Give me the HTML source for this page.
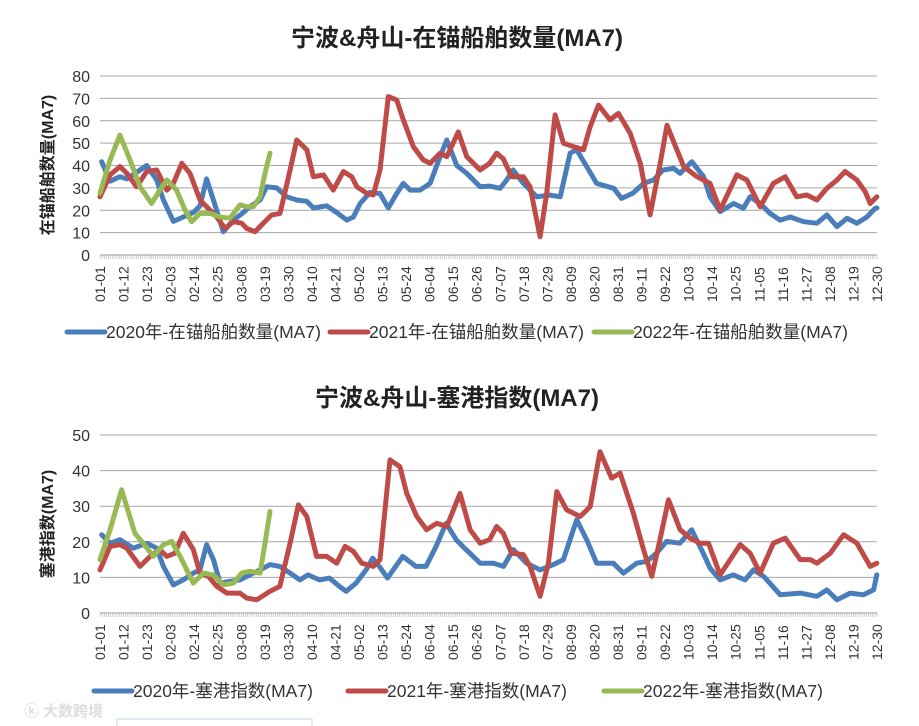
<!DOCTYPE html>
<html><head><meta charset="utf-8">
<style>
html,body{margin:0;padding:0;background:#fff;}
svg{display:block;font-family:"Liberation Sans","Noto Sans CJK SC",sans-serif;}
</style></head>
<body>
<svg id="chart" width="919" height="726" viewBox="0 0 919 726">
<text x="457" y="46" text-anchor="middle" font-size="24" font-weight="bold" fill="#222">宁波&amp;舟山-在锚船舶数量(MA7)</text>
<text x="457" y="406" text-anchor="middle" font-size="24" font-weight="bold" fill="#222">宁波&amp;舟山-塞港指数(MA7)</text>
<text transform="translate(53,165) rotate(-90)" text-anchor="middle" font-size="16" font-weight="bold" fill="#222">在锚船舶数量(MA7)</text>
<text transform="translate(53,524) rotate(-90)" text-anchor="middle" font-size="16" font-weight="bold" fill="#222">塞港指数(MA7)</text>
<g id="layer"></g>
<text x="24" y="716" font-size="15" fill="#ddd" font-weight="bold">ⓚ 大数跨境</text>
<rect x="117" y="719" width="195" height="10" fill="none" stroke="#c8d4e8"/>
</svg>
<script>
var tickLabels = ["01-01","01-12","01-23","02-03","02-14","02-25","03-08","03-19","03-30","04-10","04-21","05-02","05-13","05-24","06-04","06-15","06-26","07-07","07-18","07-29","08-09","08-20","08-31","09-11","09-22","10-03","10-14","10-25","11-05","11-16","11-27","12-08","12-19","12-30"];
var topYTicks = [0,10,20,30,40,50,60,70,80];
var botYTicks = [0,10,20,30,40,50];
var seriesNames = ["2020年","2021年","2022年"];

var top2020Days = [0.8,4.7,9.3,12.5,18.7,21.8,26.5,29.6,34.3,38.9,43.6,46.7,49.8,53,57.6,62.3,67,70,74.8,77.9,82.5,87.2,91.9,96.6,99.7,105.9,110.6,115.3,118.4,121.5,126.2,130.8,134.7,138.6,141.7,144.9,149.5,154.2,158.9,162,166.7,171.3,177.6,182,186.9,190,193,197.8,204,210,215,219.6,222.7,227.4,232,240,243.7,249,253.9,258.6,263,268,271,276.5,282,285,289.7,296,300.6,303.7,308.4,313,317.8,322.5,328.7,334.9,339.6,344.3,349,353.6,358.3,362.2,363];
var top2020Vals = [41.7,33,35,34,38,40,33.5,24.6,15,17,19,22,34,24.6,10.4,15.6,19,21.6,24.6,30.5,30,26,24.6,24,21,22,19,15.6,17,23,28,27.5,21,27.5,32,29,29,32,44,51.4,40,36.5,30.5,30.8,29.8,33.5,38,32,26,26.8,26,45.5,47,39.5,32,29.8,25.3,27.6,32,33.5,38,38.7,36.5,41.7,35,26,19.4,23,20.9,26,23,18.6,15.6,17,14.9,14.2,17.9,12.7,16.4,14.2,17,20.9,21];

var top2021Days = [0,4.7,9.3,12.5,17.1,21.8,26.5,31.2,34.3,38.2,42,46.7,49.8,54.5,58.4,62.3,66.2,68.5,72.4,76.3,80.2,84.1,88.8,91.9,96.6,99.7,104.4,109,113.7,117.6,120,124.6,127.7,130.8,134.7,138.6,141.7,146.4,151,154.2,158.9,162,167.4,171.3,177.6,182,185.3,188.4,192.3,197.8,200.9,205.6,208.7,212.6,216.5,221.2,225.9,229,232.9,238.3,242.2,247.7,252.4,257,261.7,264.9,269.5,272.7,278.9,285,289.7,297.5,302.2,308.4,314.6,320.1,325.5,330.2,334.9,339.6,344.3,348.1,353.6,357.5,359.8,362.9];
var top2021Vals = [26,35.8,39.5,36.5,30.5,37.3,38,29,32,41,36.5,24.6,21.6,17,11.9,14.9,14.2,11.9,10.4,14.2,17.9,18.6,38,51.4,47,35,35.8,29,37.3,35,30.5,27.6,26.8,38,70.8,69.3,60.4,48.4,42.5,41,45.5,44,55,44,38,41,45.5,43,35,35,30.5,8.2,27.6,62.6,50,48.4,47,57.4,67,60.4,63.3,54.4,41,17.9,41,58,47,39.5,35,32,20.1,35.8,33.5,21.6,32,35,26,26.8,24.6,29.8,33.5,37.3,33.5,28.3,23,26];

var top2022Days = [0,4.7,9.3,14,18.7,24.1,28,31.2,35.8,39.7,42.8,46.7,51.4,56.1,60.7,65.4,68.5,71.6,74.8,77.1,79.4];
var top2022Vals = [27.6,42.5,53.6,42.5,30.5,23,29,33.5,29,20.1,14.9,18.6,18.6,17,16.4,22.4,21.6,21.6,26,36.5,45.5];

var bot2020Days = [0.8,4.7,9.3,15.6,21.8,26.5,29.6,34.3,38.9,43.6,46.7,49.8,53,56.1,60.7,65.4,70,74.8,79.4,84,88.8,93.4,97.2,102.5,107.2,111.8,115,119.6,124.3,127.4,130.5,134.3,141.4,147.6,152.3,157,161.7,166.4,171,177.6,183.8,188.5,193.1,199.3,205.6,211.8,216.5,222.7,227.4,232,239.8,244.5,250.7,255.4,260,264.7,270.9,276.4,281.8,285,289.7,295.9,301.4,305.3,310,317.8,327.1,334.9,339.6,344.3,350.5,356.7,361.4,362.9];
var bot2020Vals = [22,19.6,20.6,18.2,19.6,18.2,13.1,7.9,9.3,11.2,12.1,19.2,15,8.4,8.9,9.3,10.7,12.1,13.6,13.1,11.2,9.3,10.7,9.3,9.8,7.5,6.1,8.4,12.1,15.4,13.1,9.8,15.9,13.1,13.1,18.7,25.2,20.6,17.8,14,14,13.1,17.8,14,12.1,13.6,15,26.2,20.6,14,14,11.2,14,14.5,16.8,20.1,19.6,23.4,16.8,12.6,9.3,10.7,9.3,12.1,10.3,5.1,5.6,4.7,6.5,3.7,5.6,5.1,6.5,10.7];

var bot2021Days = [0,4.7,9.3,12.5,18.7,23.4,28,31.2,35,38.9,43.6,46.7,50.6,54.5,59.2,65.4,68.5,73.2,79.4,84,88.8,92.7,96.6,101.2,105.9,110.6,114.5,118.4,122.3,127.7,130.8,135.5,140.1,143.3,148,152.6,157.3,162,168.2,172.9,177.6,182,185.3,188.4,192.3,197.8,200.9,205.6,209.5,213.4,218,224.3,229,233.6,239,243,249.2,253.9,257.8,260.9,265.6,271,275.7,280.4,284.3,289.7,294.4,299.1,303.7,308.4,314.6,320.1,327.1,331.8,334.9,341.2,347.4,353.6,359.8,362.9];
var bot2021Vals = [12.1,18.7,19.2,18.2,13.1,15.9,17.8,15.9,16.8,22.4,17.8,11.2,10.3,7.5,5.6,5.6,4.2,3.7,6.1,7.5,19.6,30.4,27.1,15.9,15.9,14,18.7,17.3,14,13.1,15,43,41.1,33.6,27.1,23.4,25.2,24.3,33.6,23.4,19.6,20.6,24.3,22.4,16.8,16.4,13.1,4.7,14,34.1,29,27.1,29.9,45.3,37.9,39.3,28,17.8,10.3,18.7,31.8,23.4,21,19.6,19.6,10.7,15,19.2,16.8,11.2,19.6,21,15,15,14,16.8,22,19.6,13.1,14];

var bot2022Days = [0,4.7,10.1,16.3,20.2,24.9,29.6,33.5,37.4,43.6,48.3,53,57.6,62.3,66.2,70,74.8,77.1,79.4];
var bot2022Vals = [15,23.4,34.6,22.4,19.6,15.9,19.2,20.1,15.9,8.4,11.2,10.7,7.9,8.4,11.2,11.7,11.2,19.6,28.5];

var NS = "http://www.w3.org/2000/svg";
var layer = document.getElementById("layer");
var X0 = 100, X1 = 877, DAYMAX = 363;
var colors = ["#4a7ebb","#be4b48","#98b954"];
function xScale(d){ return X0 + (X1 - X0) * d / DAYMAX; }
function mk(tag, attrs){ var e = document.createElementNS(NS, tag); for (var k in attrs) e.setAttribute(k, attrs[k]); layer.appendChild(e); return e; }

function drawChart(prefix, yTop, yBot, yMax, yTicks, series, legendY, legendItems, legendXs, labelTop){
  function yScale(v){ return yBot - (yBot - yTop) * v / yMax; }
  yTicks.forEach(function(t){
    var g = mk("line",{x1:X0,x2:X1,y1:yScale(t),y2:yScale(t),stroke:t===0?"#999":"#a6a6a6","stroke-width":1});
    
    
    var tx = mk("text",{x:X0-10,y:yScale(t)+6,"text-anchor":"end","font-size":16,fill:"#333"});
    tx.textContent = t;
    
    
  });
  var tickPath = "";
  for (var d = 0; d <= DAYMAX; d++){ var xx = xScale(d).toFixed(2); tickPath += "M"+xx+" "+yBot+"V"+(yBot+4); }
  var tp = mk("path",{d:tickPath,stroke:"#b0b0b0","stroke-width":0.6,fill:"none"});
  
  
  tickLabels.forEach(function(l,i){
    var x = xScale(i*11);
    var t = mk("text",{transform:"translate("+(x+5)+","+(labelTop+39)+") rotate(-90)","font-size":14,fill:"#333"});
    t.textContent = l;
    
    
  });
  series.forEach(function(s,si){
    var d = "";
    for (var i=0;i<s.days.length;i++){ d += (i?"L":"M") + xScale(s.days[i]).toFixed(1) + " " + yScale(s.vals[i]).toFixed(1); }
    var p = mk("path",{d:d,stroke:colors[si],"stroke-width":5,fill:"none","stroke-linejoin":"round","stroke-linecap":"round"});
    
    
  });
  legendItems.forEach(function(txt,i){
    var lx = legendXs[i];
    var ln = mk("line",{x1:lx,x2:lx+38,y1:legendY,y2:legendY,stroke:colors[i],"stroke-width":5,"stroke-linecap":"round"});
    
    
    var t = mk("text",{x:lx+39,y:legendY+6,"font-size":17.5,fill:"#333"});
    t.textContent = txt;
    
    
  });
}

drawChart("top", 76, 255, 80, topYTicks,
  [{days:top2020Days,vals:top2020Vals},{days:top2021Days,vals:top2021Vals},{days:top2022Days,vals:top2022Vals}],
  332, ["2020年-在锚船舶数量(MA7)","2021年-在锚船舶数量(MA7)","2022年-在锚船舶数量(MA7)"], [67,330,594], 263);

drawChart("bottom", 435, 613, 50, botYTicks,
  [{days:bot2020Days,vals:bot2020Vals},{days:bot2021Days,vals:bot2021Vals},{days:bot2022Days,vals:bot2022Vals}],
  691, ["2020年-塞港指数(MA7)","2021年-塞港指数(MA7)","2022年-塞港指数(MA7)"], [94,348,604], 621);
</script>
</body></html>
